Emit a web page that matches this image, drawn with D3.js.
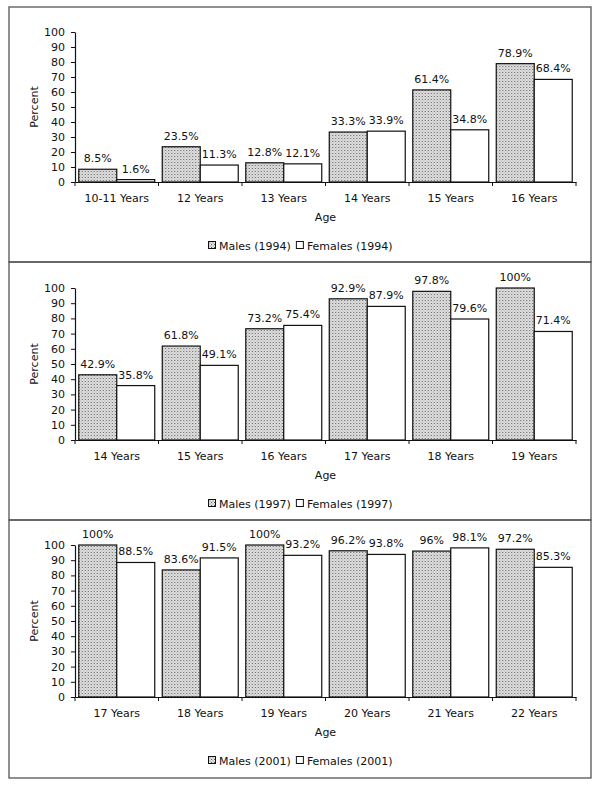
<!DOCTYPE html>
<html>
<head>
<meta charset="utf-8">
<script src="https://cdn.jsdelivr.net/npm/d3@7"></script>
<style>
  html, body { margin: 0; padding: 0; background: #fff; }
  svg { display: block; font-family: "DejaVu Sans", Verdana, sans-serif; }
</style>
</head>
<body>
<svg id="chart" width="600" height="787"></svg>
<script>
// ---- Data ----
const categories1994 = ["10-11 Years", "12 Years", "13 Years", "14 Years", "15 Years", "16 Years"];
const males1994   = [8.5, 23.5, 12.8, 33.3, 61.4, 78.9];
const females1994 = [1.6, 11.3, 12.1, 33.9, 34.8, 68.4];

const categories1997 = ["14 Years", "15 Years", "16 Years", "17 Years", "18 Years", "19 Years"];
const males1997   = [42.9, 61.8, 73.2, 92.9, 97.8, 100];
const females1997 = [35.8, 49.1, 75.4, 87.9, 79.6, 71.4];

const categories2001 = ["17 Years", "18 Years", "19 Years", "20 Years", "21 Years", "22 Years"];
const males2001   = [100, 83.6, 100, 96.2, 96, 97.2];
const females2001 = [88.5, 91.5, 93.2, 93.8, 98.1, 85.3];

const yTicks = [0, 10, 20, 30, 40, 50, 60, 70, 80, 90, 100];
const seriesNames = ["Males", "Females"];
const years = ["1994", "1997", "2001"];

// ---- Drawing ----
const FONT = '"DejaVu Sans", Verdana, sans-serif';
const svg = d3.select("#chart");
const defs = svg.append("defs");
const pat = defs.append("pattern").attr("id", "dots")
  .attr("patternUnits", "userSpaceOnUse").attr("width", 3).attr("height", 3);
pat.append("rect").attr("width", 3).attr("height", 3).attr("fill", "#e4e4e4");
pat.append("rect").attr("x", 0).attr("y", 0).attr("width", 1).attr("height", 1).attr("fill", "#555");
pat.append("rect").attr("x", 1.5).attr("y", 1.5).attr("width", 1).attr("height", 1).attr("fill", "#888");

const panels = [
  { cats: categories1994, m: males1994, f: females1994, year: years[0], top: 7,   bottom: 262, y0: 182, y100: 32 },
  { cats: categories1997, m: males1997, f: females1997, year: years[1], top: 262, bottom: 520, y0: 440, y100: 288 },
  { cats: categories2001, m: males2001, f: females2001, year: years[2], top: 520, bottom: 778, y0: 697, y100: 545 }
];

const xLeft = 75, xRight = 576;

panels.forEach(p => {
  const g = svg.append("g");
  g.append("rect").attr("x", 9).attr("y", p.top).attr("width", 582).attr("height", p.bottom - p.top)
    .attr("fill", "none").attr("stroke", "#555").attr("stroke-width", 1.3);

  const x = d3.scaleBand().domain(p.cats).range([xLeft, xRight]).paddingInner(0.09).paddingOuter(0.045);
  const xs = d3.scaleBand().domain(seriesNames).range([0, x.bandwidth()]);
  const y = d3.scaleLinear().domain([0, 100]).range([p.y0, p.y100]);

  const rows = p.cats.map((c, i) => ({ c, vals: [p.m[i], p.f[i]] }));

  const grp = g.selectAll("g.grp").data(rows).join("g")
    .attr("transform", d => `translate(${x(d.c)},0)`);
  grp.selectAll("rect").data(d => d.vals.map((v, k) => ({ v, s: seriesNames[k] }))).join("rect")
    .attr("x", d => xs(d.s)).attr("y", d => y(d.v))
    .attr("width", xs.bandwidth()).attr("height", d => y(0) - y(d.v))
    .attr("fill", d => d.s === "Males" ? "url(#dots)" : "#fff")
    .attr("stroke", "#111").attr("stroke-width", 1.2);
  grp.selectAll("text").data(d => d.vals.map((v, k) => ({ v, s: seriesNames[k] }))).join("text")
    .attr("x", d => xs(d.s) + xs.bandwidth() / 2).attr("y", d => y(d.v) - 7)
    .attr("text-anchor", "middle").attr("font-size", 11).attr("fill", "#111")
    .text(d => String(d.v) + "%");

  // y axis
  const yAxis = d3.axisLeft(y).tickValues(yTicks).tickSize(4).tickSizeOuter(0);
  const ya = g.append("g").attr("transform", `translate(${xLeft},0)`).call(yAxis);
  ya.select(".domain").attr("stroke", "#111").attr("stroke-width", 1.2);
  ya.selectAll(".tick line").attr("stroke", "#111");
  ya.selectAll(".tick text").attr("font-size", 11).attr("fill", "#111")
    .attr("font-family", FONT).attr("x", -10);

  // x axis
  const xAxis = d3.axisBottom(x).tickSize(0).tickSizeOuter(0);
  const xa = g.append("g").attr("transform", `translate(0,${p.y0})`).call(xAxis);
  xa.select(".domain").attr("stroke", "#111").attr("stroke-width", 1.2);
  xa.selectAll(".tick text").attr("font-size", 11).attr("fill", "#111")
    .attr("font-family", FONT).attr("dy", "1.55em");
  const bounds = p.cats.map(c => x(c) - x.step() * x.paddingInner() / 2).concat([xRight]);
  xa.selectAll("line.bt").data(bounds).join("line").attr("class", "bt")
    .attr("x1", d => d).attr("x2", d => d).attr("y1", 0).attr("y2", 4)
    .attr("stroke", "#111");

  // axis titles
  g.append("text").attr("transform", `translate(38,${(p.y0 + p.y100) / 2}) rotate(-90)`)
    .attr("text-anchor", "middle").attr("font-size", 11).attr("fill", "#111").text("Percent");
  g.append("text").attr("x", (xLeft + xRight) / 2).attr("y", p.y0 + 39)
    .attr("text-anchor", "middle").attr("font-size", 11).attr("fill", "#111").text("Age");

  // legend
  const ly = p.y0 + 68;
  const items = seriesNames.map(s => `${s} (${p.year})`);
  const lg = g.append("g");
  let cx = 0;
  items.forEach((t, k) => {
    const it = lg.append("g").attr("transform", `translate(${cx},0)`);
    it.append("rect").attr("x", 0.5).attr("y", -8.5).attr("width", 7).attr("height", 7)
      .attr("fill", k === 0 ? "url(#dots)" : "#fff").attr("stroke", "#111").attr("stroke-width", 1);
    const tx = it.append("text").attr("x", 11).attr("y", 0).attr("font-size", 11).attr("fill", "#111").text(t);
    cx += 11 + tx.node().getComputedTextLength() + 5;
  });
  const lw = cx - 5;
  lg.attr("transform", `translate(${Math.round(300 - lw / 2)},${ly})`);
});
</script>
</body>
</html>
